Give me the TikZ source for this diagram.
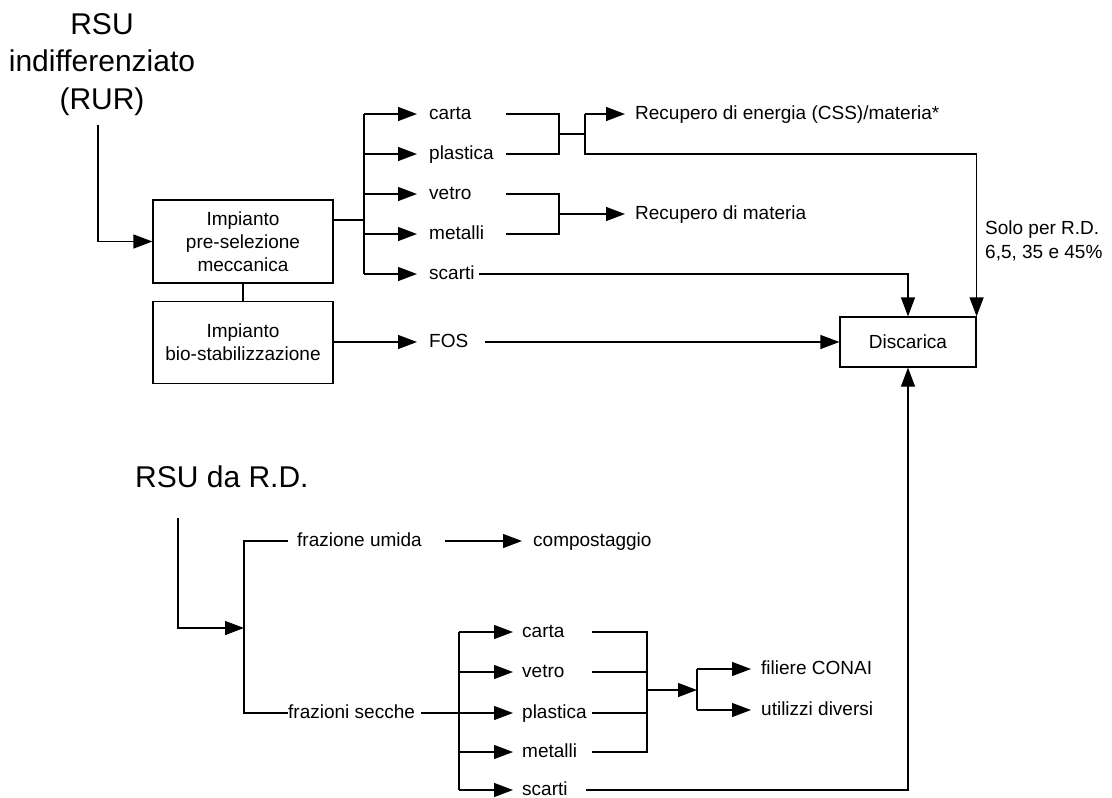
\documentclass[tikz,border=0pt]{standalone}
\usepackage{fontspec}
\setmainfont{Liberation Sans}
\usetikzlibrary{arrows.meta, positioning}

\tikzset{
  flow/.style={line width=1.2pt},
  arr/.style={flow, -{Triangle[length=19pt, width=14pt]}},
  plant/.style={draw, line width=1.2pt, minimum width=180pt, minimum height=83pt,
    align=center, inner sep=0pt, font=\fontsize{19}{23}\selectfont},
  lbl/.style={anchor=west, inner sep=0pt, text height=14pt, text depth=4pt,
    font=\fontsize{19}{23}\selectfont},
  heading/.style={inner sep=0pt, align=center, font=\fontsize{30}{37.5}\selectfont}
}

\begin{document}
\begin{tikzpicture}[x=1pt, y=-1pt]
  \useasboundingbox (0,0) rectangle (1112,798);

  % RSU indifferenziato
  \node[heading, anchor=north] (rur) at (102,13) {RSU\\indifferenziato\\(RUR)};
  \coordinate (rurOut) at (98,125);

  \node[plant] (preSel) at (243,241.5) {Impianto\\pre-selezione\\meccanica};
  \node[plant, minimum height=82pt, below=17pt of preSel] (bioStab) {Impianto\\bio-stabilizzazione};
  \node[draw, line width=1.2pt, minimum width=136pt, minimum height=50pt, inner sep=0pt,
    font=\fontsize{19}{23}\selectfont] (discarica) at (908,342) {Discarica};

  \node[lbl, text width=77pt] (cartaA) at (429,114) {carta};
  \node[lbl, text width=77pt] (plasticaA) at (429,154) {plastica};
  \node[lbl, text width=77pt] (vetroA) at (429,194) {vetro};
  \node[lbl, text width=77pt] (metalliA) at (429,234) {metalli};
  \node[lbl] (scartiA) at (429,274) {scarti};
  \node[lbl, text width=56pt] (fos) at (429,342) {FOS};
  \node[lbl] (recEnergia) at (635,114) {Recupero di energia (CSS)/materia*};
  \node[lbl] (recMateria) at (635,214) {Recupero di materia};
  \node[anchor=north west, inner sep=0pt, align=left, font=\fontsize{19}{24}\selectfont]
    (solo) at (985,221) {Solo per R.D.\\6,5, 35 e 45\%};

  \coordinate (busA) at (364,220);
  \coordinate (brA) at (559,134);
  \coordinate (splitA) at (585,134);
  \coordinate (brB) at (559,214);

  \draw[arr] (rurOut) |- (preSel.west);
  \draw[flow] (preSel.east |- busA) -- (busA);
  \draw[flow] (busA |- cartaA.west) -- (busA |- scartiA.west);
  \foreach \n in {cartaA, plasticaA, vetroA, metalliA, scartiA}
    \draw[arr, shorten >=12pt] (busA |- \n.west) -- (\n.west);
  \draw[flow] (cartaA.east) -| (brA) |- (plasticaA.east);
  \draw[flow] (brA) -- (splitA);
  \draw[arr, shorten >=10pt] (splitA |- recEnergia.west) -- (recEnergia.west);
  \draw[arr] (splitA |- recEnergia.west) -- (splitA |- plasticaA.west) -| (discarica.north east);
  \draw[flow] (vetroA.east) -| (brB) |- (metalliA.east);
  \draw[arr, shorten >=10pt] (brB) -- (recMateria.west);
  \draw[arr, shorten <=4pt] (scartiA.east) -| (discarica.north);
  \draw[flow] (preSel) -- (bioStab);
  \draw[arr, shorten >=12pt] (bioStab.east |- fos.west) -- (fos.west);
  \draw[arr] (fos.east) -- (fos.east -| discarica.west);

  % RSU da R.D.
  \node[heading, anchor=base west] (rd) at (135,487) {RSU da R.D.};
  \coordinate (rdOut) at (178,518);
  \coordinate (busC) at (244,628);
  \node[lbl, inner xsep=9pt] (umida) at (288,541) {frazione umida};
  \node[lbl] (compost) at (533,541) {compostaggio};
  \node[lbl] (secche) at (288,713) {frazioni secche};
  \coordinate (busD) at (459,713);
  \node[lbl, text width=70pt] (cartaB) at (522,632) {carta};
  \node[lbl, text width=70pt] (vetroB) at (522,672) {vetro};
  \node[lbl, text width=70pt] (plasticaB) at (522,713) {plastica};
  \node[lbl, text width=70pt] (metalliB) at (522,752) {metalli};
  \node[lbl] (scartiB) at (522,790) {scarti};
  \coordinate (brC) at (647,690);
  \coordinate (brD) at (697,690);
  \node[lbl] (conai) at (761,669) {filiere CONAI};
  \node[lbl] (diversi) at (761,710) {utilizzi diversi};

  \draw[arr] (rdOut) |- (busC);
  \draw[flow] (umida.west) -| (busC) |- (secche.west);
  \draw[arr, shorten <=14pt, shorten >=11pt] (umida.east) -- (compost.west);
  \draw[arr, shorten <=6pt, shorten >=9pt] (secche.east) -- (plasticaB.west);
  \draw[flow] (busD |- cartaB.west) -- (busD |- scartiB.west);
  \foreach \n in {cartaB, vetroB, metalliB, scartiB}
    \draw[arr, shorten >=9pt] (busD |- \n.west) -- (\n.west);
  \draw[flow] (cartaB.east) -| (brC) |- (metalliB.east);
  \draw[flow] (vetroB.east) -- (vetroB.east -| brC);
  \draw[flow] (plasticaB.east) -- (plasticaB.east -| brC);
  \draw[arr] (brC) -- (brD);
  \draw[flow] (brD |- conai.west) -- (brD |- diversi.west);
  \draw[arr, shorten >=10pt] (brD |- conai.west) -- (conai.west);
  \draw[arr, shorten >=10pt] (brD |- diversi.west) -- (diversi.west);
  \draw[arr, shorten <=18pt] (scartiB.east) -| (discarica.south);
\end{tikzpicture}
\end{document}
